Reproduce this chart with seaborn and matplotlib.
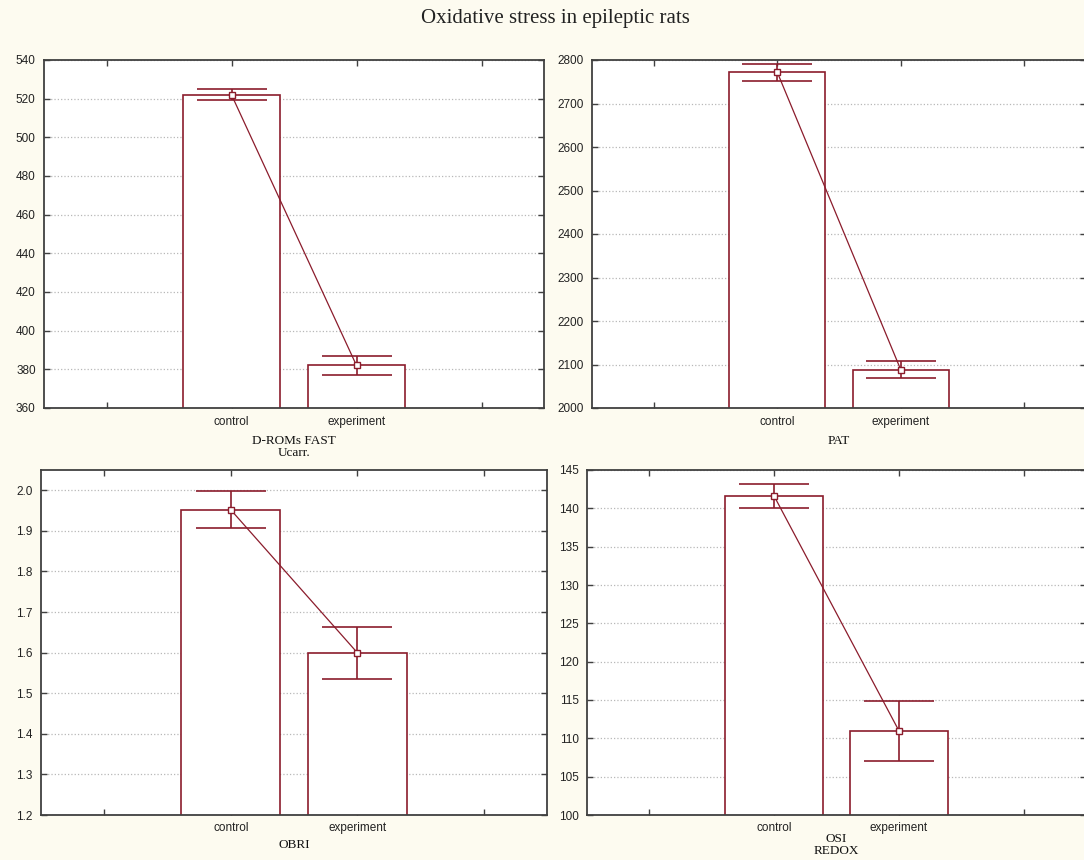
import numpy as np
import pandas as pd
import matplotlib
matplotlib.use('Agg')
import matplotlib.pyplot as plt
import seaborn as sns

# data
groups = ['control', 'experiment']

drom_mean = [522.0, 382.0]
drom_low = [519.5, 377.0]
drom_high = [525.0, 387.0]

pat_mean = [2772.0, 2088.0]
pat_low = [2752.0, 2070.0]
pat_high = [2790.0, 2108.0]

obri_mean = [1.952, 1.600]
obri_low = [1.906, 1.534]
obri_high = [1.998, 1.664]

osi_mean = [141.6, 111.0]
osi_low = [140.0, 107.0]
osi_high = [143.2, 114.9]

labels = ['D-ROMs FAST\nUcarr.', 'PAT', 'OBRI', 'OSI\nREDOX']

sns.set_theme(style='white')
plt.rcParams['font.family'] = ['Liberation Sans', 'DejaVu Sans']

red = '#8b1c2c'
bg = '#fdfbf0'

fig = plt.figure(figsize=(10.84, 8.6), dpi=100, facecolor=bg)

# axes boxes in pixels: left, top, right, bottom
boxes = [(44, 60, 544, 408), (592, 60, 1086, 408),
         (41, 470, 547, 815), (587, 470, 1086, 815)]

panels = [
    (drom_mean, drom_low, drom_high, (360, 540), np.arange(360, 541, 20), '%d', 5, 6),
    (pat_mean, pat_low, pat_high, (2000, 2800), np.arange(2000, 2801, 100), '%d', 5, 6),
    (obri_mean, obri_low, obri_high, (1.2, 2.05), np.arange(1.2, 2.01, 0.1), '%.1f', 4, 5),
    (osi_mean, osi_low, osi_high, (100, 145), np.arange(100, 146, 5), '%d', -1, 5),
]

W, H = 1084, 860
for i, (box, p) in enumerate(zip(boxes, panels)):
    l, t, r, b = box
    ax = fig.add_axes([l / W, 1 - b / H, (r - l) / W, (b - t) / H])
    ax.set_facecolor('white')
    mean, low, high, ylim, yticks, fmt, pad, tpad = p
    df = pd.DataFrame({'group': groups, 'value': mean})

    ax.yaxis.grid(True, linestyle=':', color='#b8b8b8', linewidth=0.9)
    ax.set_axisbelow(True)

    sns.barplot(data=df, x='group', y='value', color='white', edgecolor=red,
                linewidth=1.2, width=0.78, errorbar=None, ax=ax, zorder=2)
    err = [np.array(mean) - np.array(low), np.array(high) - np.array(mean)]
    ax.errorbar(groups, mean, yerr=err, fmt='none', ecolor=red,
                elinewidth=1.2, capsize=25, capthick=1.2, zorder=3)
    sns.lineplot(data=df, x='group', y='value', color=red, linewidth=0.9,
                 marker='s', markersize=5, markerfacecolor='white',
                 markeredgecolor=red, markeredgewidth=1.0, ax=ax, zorder=4)

    ax.set_ylim(*ylim)
    ax.set_yticks(yticks)
    ax.set_yticklabels([fmt % v for v in yticks])
    ax.set_xlim(-1.5, 2.5)
    ax.set_xticks([-1, 0, 1, 2])
    ax.set_xticklabels(['', 'control', 'experiment', ''])
    ax.tick_params(direction='in', length=4, width=1, color='#404040',
                   top=True, right=True, bottom=True, left=True,
                   labelsize=8.5, labelcolor='#222222', pad=6)
    ax.tick_params(axis='x', pad=tpad)
    for s in ax.spines.values():
        s.set_color('#404040')
        s.set_linewidth(1.3)
    ax.set_ylabel('')
    ax.set_xlabel(labels[i], family=['Liberation Serif', 'DejaVu Serif'],
                  fontsize=9.5, color='#111111',
                  labelpad=pad, linespacing=1.0)

fig.text(0.512, 1 - 18 / H, 'Oxidative stress in epileptic rats',
         family=['Liberation Serif', 'DejaVu Serif'], fontsize=15,
         ha='center', va='center', color='#222222')

fig.savefig('out.png', dpi=100, facecolor=bg)
